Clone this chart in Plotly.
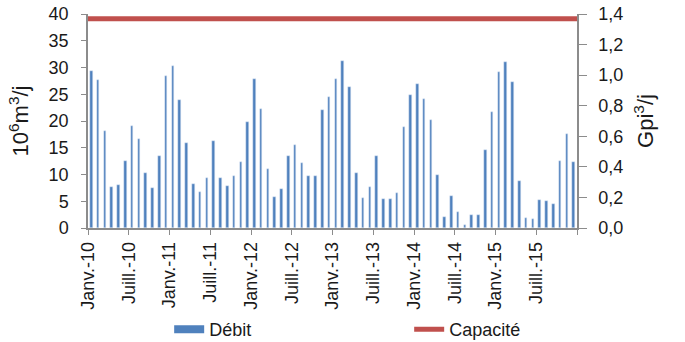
import plotly.graph_objects as go

months = list(range(72))
debit = [29.3, 27.6, 18.2, 7.7, 8.1, 12.5, 19.1, 16.7, 10.2, 7.5, 13.5, 28.4,
         30.3, 23.9, 15.8, 8.3, 6.8, 9.3, 16.2, 9.3, 7.8, 9.8, 12.4, 19.8,
         27.8, 22.2, 11.1, 5.8, 7.3, 13.5, 15.5, 12.1, 9.8, 9.8, 22.0, 24.5,
         27.8, 31.3, 26.3, 10.3, 5.6, 7.7, 13.4, 5.5, 5.5, 6.6, 18.9, 24.9,
         27.0, 24.1, 20.1, 9.9, 2.0, 6.0, 3.0, 0.6, 2.4, 2.4, 14.5, 21.6,
         29.1, 31.0, 27.2, 8.7, 1.8, 1.7, 5.2, 5.0, 4.4, 12.5, 17.6, 12.3]
capacite = [39.1] * 72
tick_pos = [-0.5, 5.5, 11.5, 17.5, 23.5, 29.5, 35.5, 41.5, 47.5, 53.5, 59.5, 65.5, 71.5]
tick_labels = ["Janv.-10", "Juill.-10", "Janv.-11", "Juill.-11", "Janv.-12", "Juill.-12",
               "Janv.-13", "Juill.-13", "Janv.-14", "Juill.-14", "Janv.-15", "Juill.-15", ""]
y2_ticks = [0, 0.2, 0.4, 0.6, 0.8, 1.0, 1.2, 1.4]

BLUE = "#4f81bd"
RED = "#c0504d"
AX = "#8c8c8c"
FONT = "Liberation Sans, Arial, sans-serif"

fig = go.Figure()
fig.add_trace(go.Bar(x=months, y=debit, marker_color=BLUE, width=0.38,
                     showlegend=False, name="Débit"))
fig.add_trace(go.Scatter(x=[None], y=[None], mode="lines", name="Débit",
                         line=dict(color=BLUE, width=8)))
fig.add_trace(go.Scatter(x=months, y=capacite, mode="lines", name="Capacité",
                         xaxis="x2", line=dict(color=RED, width=5)))
# invisible trace to activate secondary y axis
fig.add_trace(go.Scatter(x=[None], y=[None], yaxis="y2", showlegend=False))

fig.update_layout(
    width=685, height=342,
    margin=dict(l=88, r=108, t=14, b=114, autoexpand=False),
    paper_bgcolor="white", plot_bgcolor="white",
    font=dict(family=FONT, size=18, color="#1a1a1a"),
    separators=", ",
    bargap=0,
    xaxis=dict(range=[-0.5, 71.5], tickmode="array", tickvals=tick_pos, ticktext=tick_labels,
               tickangle=-90, ticks="outside", ticklen=5, tickcolor=AX, showline=True,
               linecolor=AX, linewidth=1.5, showgrid=False, zeroline=False),
    xaxis2=dict(range=[0, 71], overlaying="x", visible=False),
    yaxis=dict(range=[0, 40], dtick=5, ticks="outside", ticklen=5, tickcolor=AX,
               showline=True, linecolor=AX, linewidth=1.5, showgrid=False, zeroline=False,
               ticklabelstandoff=9,
               title=dict(text="10<sup>6</sup>m<sup>3</sup>/j", standoff=14)),
    yaxis2=dict(range=[0, 1.4], tickvals=y2_ticks, tickformat=".1f", overlaying="y",
                side="right", ticks="outside", ticklen=8, tickcolor=AX, showline=True,
                linecolor=AX, linewidth=1.5, showgrid=False, zeroline=False,
                ticklabelstandoff=8,
                title=dict(text="Gpi<sup>3</sup>/j", standoff=15)),
    legend=dict(orientation="h", x=0.166, xanchor="left", y=-0.475, yanchor="middle",
                entrywidth=195, entrywidthmode="pixels", font=dict(size=18)),
)
fig.write_html("out.html")
